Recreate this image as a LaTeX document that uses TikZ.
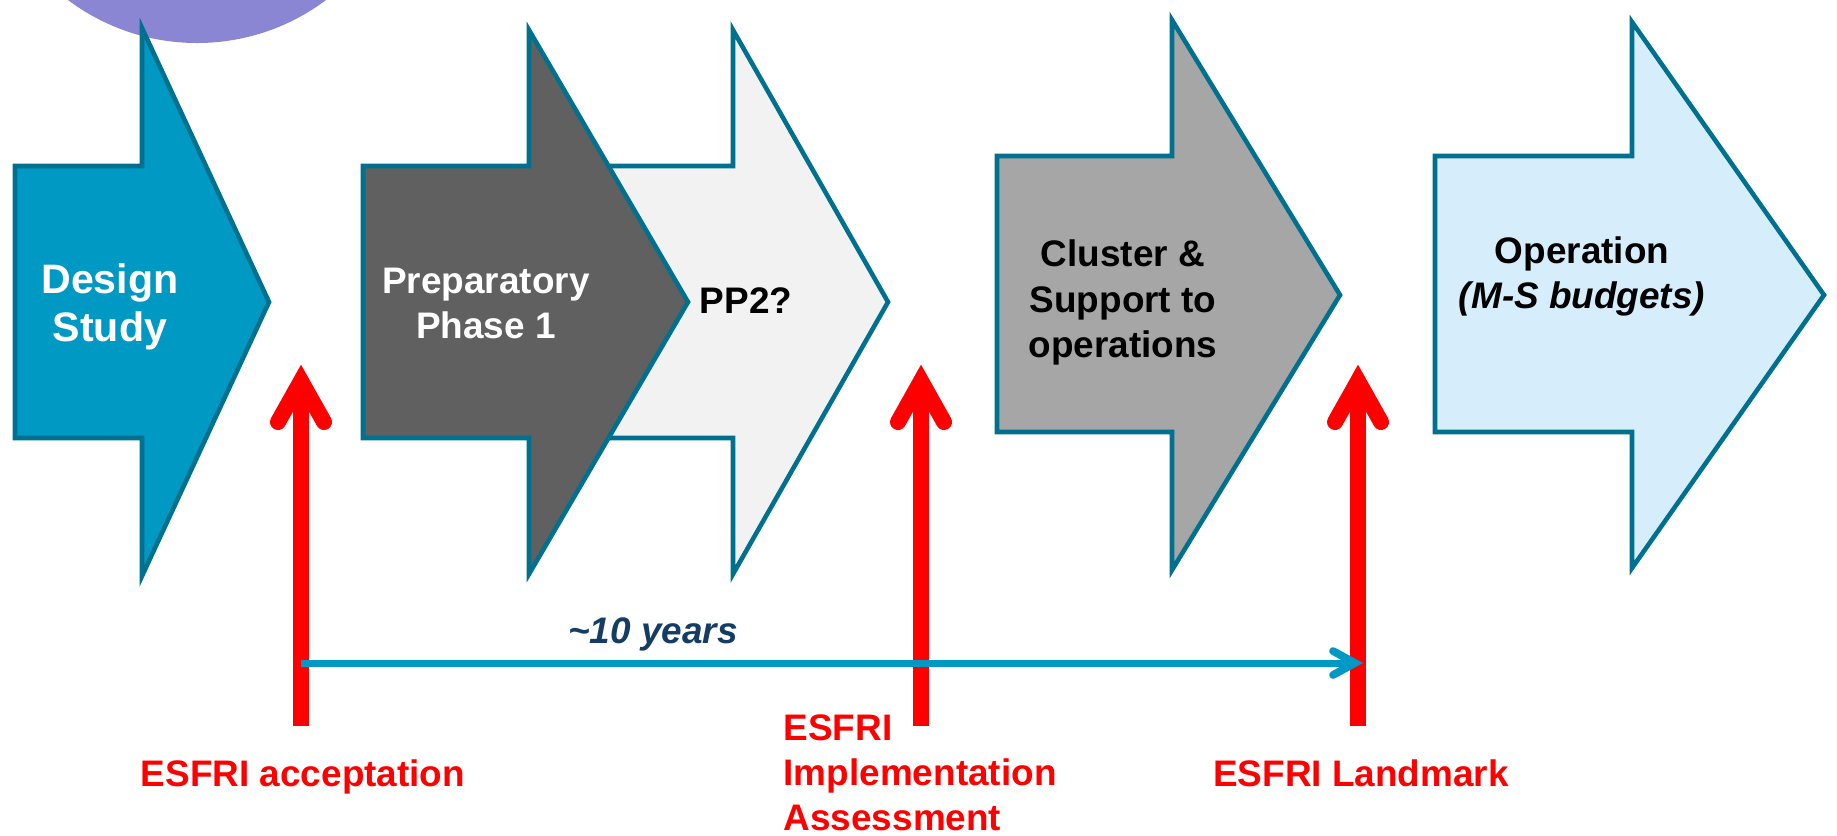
\documentclass[tikz,border=0pt]{standalone}
\usepackage{fontspec}
\setmainfont{Liberation Sans}
\usetikzlibrary{calc}
\definecolor{bubble}{RGB}{138,134,212}
\definecolor{arrowedge}{RGB}{0,112,143}
\definecolor{designfill}{RGB}{0,153,196}
\definecolor{prepfill}{RGB}{96,96,96}
\definecolor{pptwofill}{RGB}{242,242,242}
\definecolor{clusterfill}{RGB}{166,166,166}
\definecolor{operfill}{RGB}{214,238,252}
\definecolor{esfrired}{RGB}{255,0,0}
\definecolor{spanblue}{RGB}{0,153,198}
\definecolor{yearsnavy}{RGB}{20,60,100}
\def\phasearrow[#1](#2,#3,#4)(#5,#6,#7)(#8,#9){\draw[#1] (#2,#3) -- (#5,#3) -- (#5,#6) -- (#8,#9) -- (#5,#7) -- (#5,#4) -- (#2,#4) -- cycle;}
\tikzset{
	phase/.style={draw=arrowedge, line width=1.3pt, line join=miter},
	phasetext/.style={font=\bfseries\fontsize{10.5}{12.8}\selectfont, align=center, inner sep=0pt, anchor=base},
	esfritext/.style={phasetext, text=esfrired},
	redbar/.style={draw=esfrired, line width=4.55pt},
	redhead/.style={draw=esfrired, line width=4.55pt, line cap=round, line join=miter},
	spanline/.style={draw=spanblue, line width=2pt},
	spanhead/.style={draw=spanblue, line width=2.2pt, line cap=round, line join=miter},
}

\begin{document}
\begin{tikzpicture}[x=0.01cm, y=-0.01cm]
		%%%%% START %%%%%
		\clip (0,0) rectangle (1837,835);
		
		\fill[bubble] (197,-172) circle (215);
		
		\phasearrow[phase, fill=designfill](15,166,438)(142,28,576)(269,302)
		\phasearrow[phase, fill=pptwofill](600,166,438)(733,30,574)(888,302)
		\phasearrow[phase, fill=prepfill](363,166,438)(529,30,574)(688,302)
		\phasearrow[phase, fill=clusterfill](997,156,432)(1172,20,570)(1340,295)
		\phasearrow[phase, fill=operfill](1435,156,432)(1632,22,568)(1824,295)
		
		% base anchor sits on the last line
		\node[phasetext, text=white, font=\bfseries\fontsize{11.7}{13.4}\selectfont] (design) at (110,341) {Design\\Study};
		\node[phasetext, text=white] (prep) at (486,338) {Preparatory\\Phase 1};
		\node[phasetext] (pptwo) at (746,313) {PP2?};
		\node[phasetext] (cluster) at (1123,357) {Cluster \&\\Support to\\operations};
		\node[phasetext] (oper) at (1582,308) {Operation\\\textit{(M-S budgets)}};
		
		% ESFRI milestones
		\foreach \i/\x in {1/301, 2/921, 3/1358}{
			\coordinate (tip\i) at (\x,381);
			\coordinate (base\i) at (\x,726);
			\draw[redbar] (base\i) -- (tip\i);
			\draw[redhead] ($(tip\i)+(-23,41)$) -- (tip\i) -- ($(tip\i)+(23,41)$);
		}
		
		\coordinate (spanstart) at (301,663);
		\coordinate (spanend) at (1355,663);
		\draw[spanline] (spanstart) -- (spanend);
		\draw[spanhead] ($(spanend)+(-22,-12)$) -- (spanend) -- ($(spanend)+(-22,12)$);
		\node[phasetext, text=yearsnavy, font=\bfseries\itshape\fontsize{10.5}{12.8}\selectfont] (years) at (653,643) {\textasciitilde10 years};
		
		\node[esfritext] (accept) at (303,786) {ESFRI acceptation};
		\node[esfritext, align=left, anchor=base west] (assess) at (783,830) {ESFRI\\Implementation\\Assessment};
		\node[esfritext] (landmark) at (1361,786) {ESFRI Landmark};
		
		%%%%% END %%%%%
\end{tikzpicture}
\end{document}
